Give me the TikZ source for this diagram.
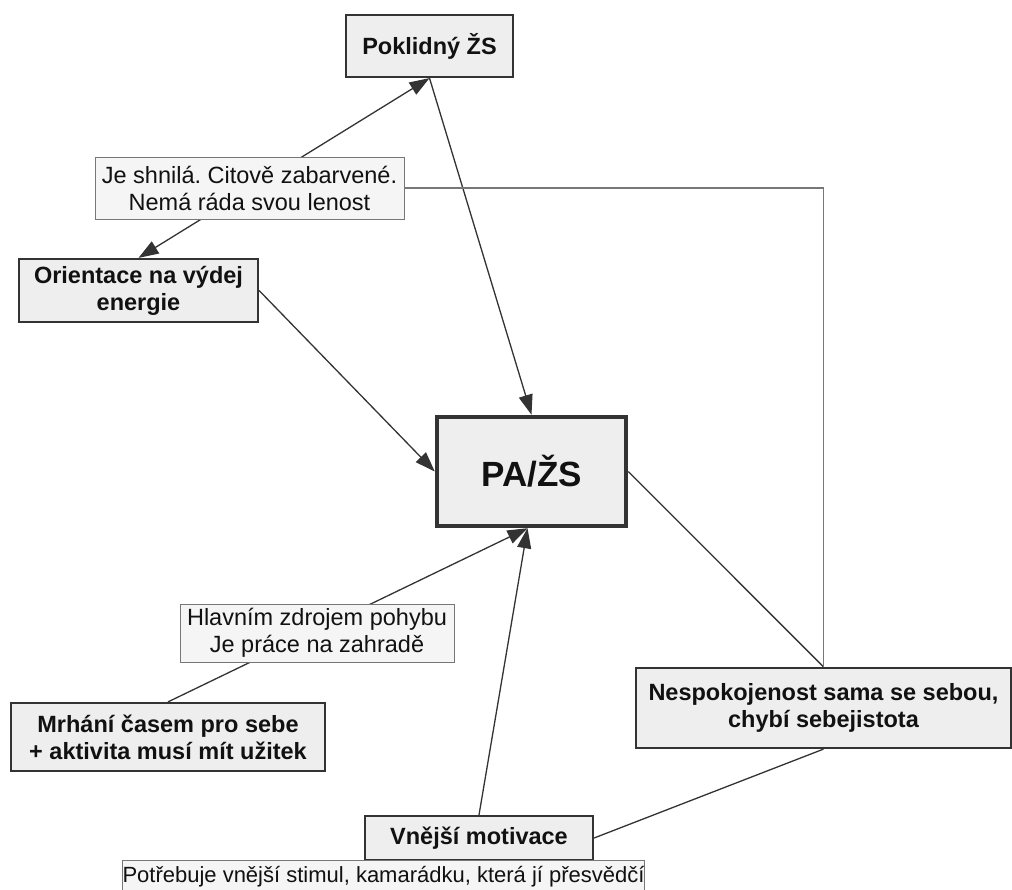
\documentclass[tikz,border=0pt]{standalone}
\usepackage{fontspec}
\setmainfont{Liberation Sans}
\usetikzlibrary{arrows.meta,calc}
\definecolor{boxfill}{HTML}{EEEEEE}
\definecolor{boxline}{HTML}{333333}
\definecolor{lblline}{HTML}{777777}
\definecolor{conn}{HTML}{333333}
\definecolor{txt}{HTML}{111111}
\frenchspacing
\begin{document}
\begin{tikzpicture}[x=1pt,y=-1pt,
  every node/.style={font=\fontsize{23.5}{27}\selectfont, text=txt, align=center, inner sep=0pt},
  mainbox/.style={draw=boxline, fill=boxfill, line width=2.2pt, font=\fontsize{23.5}{27}\selectfont\bfseries},
  bigbox/.style={draw=boxline, fill=boxfill, line width=4.5pt, font=\fontsize{35}{40}\selectfont\bfseries},
  lblbox/.style={draw=lblline, fill=boxfill!60!white, line width=1pt},
  conline/.style={draw=conn, line width=1.3pt},
  arr/.style={conline, -{Triangle[length=20pt,width=14pt]}},
  darr/.style={conline, {Triangle[length=20pt,width=14pt]}-{Triangle[length=20pt,width=14pt]}}
]
\useasboundingbox (0,0) rectangle (1012,889);
\fill[white] (0,0) rectangle (1012,889);

% nodes
\node[mainbox, minimum width=167pt, minimum height=62pt] (pokl) at (429.5,46) {Poklidný ŽS};
\node[mainbox, minimum width=239pt, minimum height=63pt] (orient) at (138.5,290.5) {Orientace na výdej\\energie};
\node[bigbox, minimum width=189pt, minimum height=109pt] (pa) at (531.5,471.5) {PA/ŽS};
\node[mainbox, minimum width=314pt, minimum height=68pt] (mrh) at (168,737) {Mrhání časem pro sebe\\+ aktivita musí mít užitek};
\node[mainbox, minimum width=375pt, minimum height=80pt] (nesp) at (823.5,708) {Nespokojenost sama se sebou,\\chybí sebejistota};
\node[mainbox, minimum width=228pt, minimum height=44pt] (vnej) at (479,838) {Vnější motivace};

\coordinate (pabot) at ($(pa.south)+(-4,0)$);

% connectors
\draw[darr] (orient.north) -- (pokl.south);
\draw[arr] (pokl.south) -- (pa.north);
\draw[arr] (orient.east) -- (pa.west);
\draw[arr] (mrh.north) -- (pabot);
\draw[arr] (vnej.north) -- (pabot);
\draw[conline] (pa.east) -- (nesp.north);
\draw[conline] (nesp.south) -- (vnej.east);

% labels
\node[lblbox, minimum width=309pt, minimum height=62pt] (lab1) at (249.5,188) {Je shnilá. Citově zabarvené.\\Nemá ráda svou lenost};
\draw[conline, draw=lblline] (lab1.east) -| (nesp.north);
\node[lblbox, minimum width=274pt, minimum height=58pt] (lab2) at (317,633) {Hlavním zdrojem pohybu\\Je práce na zahradě};
\node[lblbox, minimum width=518pt, minimum height=32pt, anchor=north west, font=\fontsize{22}{26}\selectfont] (lab3) at (122,860) {Potřebuje vnější stimul, kamarádku, která jí přesvědčí};
\end{tikzpicture}
\end{document}
